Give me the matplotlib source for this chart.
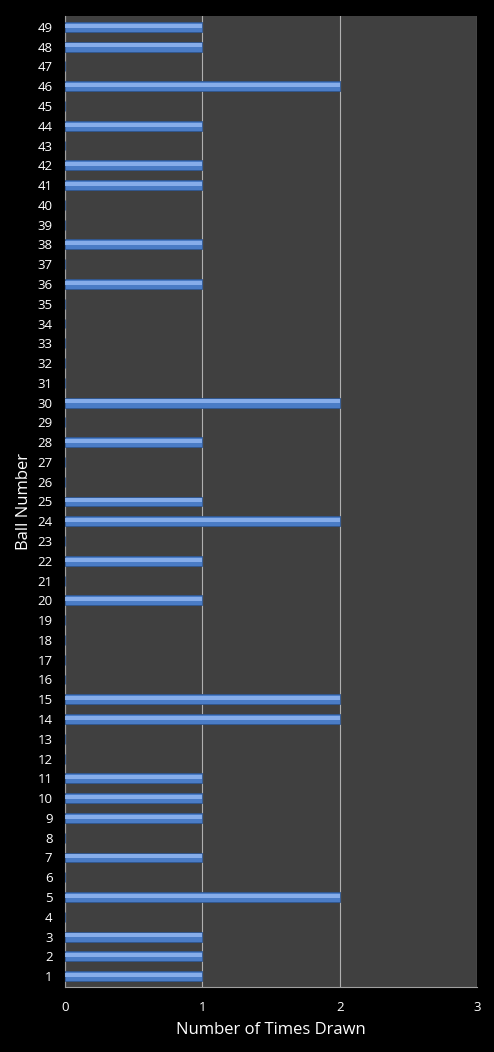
import matplotlib
matplotlib.use("Agg")
import matplotlib.pyplot as plt

balls = list(range(1, 50))
drawn = {1: 1, 2: 1, 3: 1, 5: 2, 7: 1, 9: 1, 10: 1, 11: 1, 14: 2, 15: 2,
         20: 1, 22: 1, 24: 2, 25: 1, 28: 1, 30: 2, 36: 1, 38: 1, 41: 1,
         42: 1, 44: 1, 46: 2, 48: 1, 49: 1}
counts = [drawn.get(b, 0) for b in balls]
xticks = [0, 1, 2, 3]

plt.rcParams['font.family'] = ['Open Sans', 'DejaVu Sans']

fig = plt.figure(figsize=(4.94, 10.52), dpi=100, facecolor='black')
ax = fig.add_axes([65/494, 1-987/1052, (477-65)/494, (987-16)/1052])
ax.set_facecolor('#404040')

ax.barh(balls, counts, height=0.5, color='#4a7cc6', edgecolor='#2f568f', linewidth=0.6, zorder=3)
ax.barh([b + 0.06 for b in balls], counts, height=0.2, color='#86adea', linewidth=0, zorder=4)

ax.set_xlim(0, 3)
ax.set_ylim(0.45, 49.55)
ax.set_xticks(xticks)
ax.set_yticks(balls)
ax.set_yticklabels([str(b) for b in balls])
ax.tick_params(axis='both', colors='white', labelsize=9.5, length=0)
ax.tick_params(axis='x', pad=10)
ax.tick_params(axis='y', pad=9)
ax.xaxis.grid(True, color='#b0b0b0', linewidth=0.8, zorder=1)
ax.set_axisbelow(True)
for s in ['top', 'right']:
    ax.spines[s].set_visible(False)
for s in ['left', 'bottom']:
    ax.spines[s].set_color('#a0a0a0')
    ax.spines[s].set_linewidth(0.8)

ax.set_xlabel('Number of Times Drawn', color='white', fontsize=12, labelpad=6)
ax.set_ylabel('Ball Number', color='white', fontsize=12, labelpad=4)

fig.savefig('out.png', dpi=100, facecolor='black')
